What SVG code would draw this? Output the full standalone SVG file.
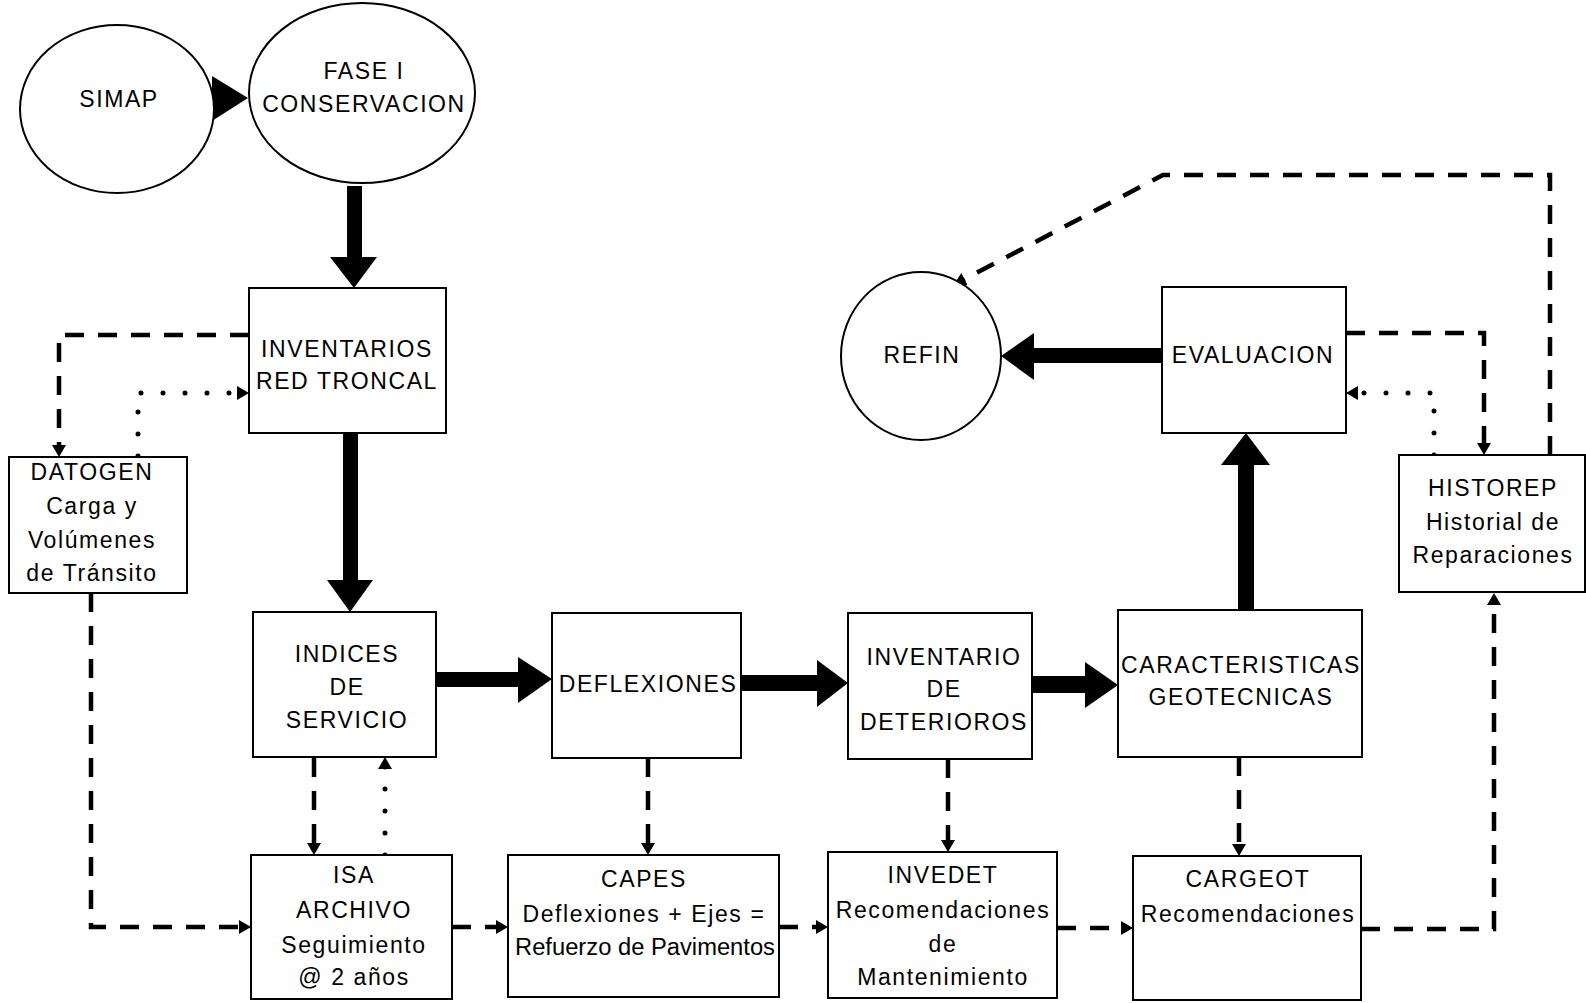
<svg xmlns="http://www.w3.org/2000/svg" width="1586" height="1003" viewBox="0 0 1586 1003">
  <style>
    .box { fill: #fff; stroke: #000; stroke-width: 2; }
    .ell { fill: #fff; stroke: #000; stroke-width: 2; }
    .lbl { font-family: "Liberation Sans", Arial, sans-serif; font-size: 23px; letter-spacing: 1.6px; text-anchor: middle; fill: #000; }
    .dash { fill: none; stroke: #000; stroke-width: 4.5; stroke-dasharray: 19 14; }
    .dot { fill: none; stroke: #000; stroke-width: 5; stroke-linecap: round; stroke-dasharray: 0 22; }
    .thick { fill: #000; stroke: none; }
  </style>
  <defs>
    <marker id="ah" viewBox="0 0 14 14" refX="4" refY="7" markerWidth="14" markerHeight="14" markerUnits="userSpaceOnUse" orient="auto">
      <path d="M0,0 L12,7 L0,14 z" fill="#000"/>
    </marker>
  </defs>
  <rect width="1586" height="1003" fill="#fff"/>

  <!-- connectors -->
  <g id="connectors">
    <!-- heavy flow arrows -->
    <polygon class="thick" points="212,76 248,98 212,121"/>
    <polygon class="thick" points="347,186 362,186 362,257 377,257 354,288 330,257 347,257"/>
    <polygon class="thick" points="343,433 358,433 358,580 373,580 350,612 327,580 343,580"/>
    <polygon class="thick" points="436,672 518,672 518,657 552,679 518,703 518,687 436,687"/>
    <polygon class="thick" points="741,675 817,675 817,660 848,683 817,707 817,691 741,691"/>
    <polygon class="thick" points="1032,676 1085,676 1085,662 1118,685 1085,708 1085,693 1032,693"/>
    <polygon class="thick" points="1238,610 1238,465 1221,465 1246,433 1270,465 1254,465 1254,610"/>
    <polygon class="thick" points="1162,348 1034,348 1034,333 1001,356 1034,380 1034,363 1162,363"/>

    <!-- dashed data links -->
    <path class="dash" d="M249,335 H59 V449" marker-end="url(#ah)"/>
    <path class="dot" d="M138,456 V393 H241" marker-end="url(#ah)"/>
    <path class="dash" d="M91,593 V927 H243" marker-end="url(#ah)"/>
    <path class="dash" d="M314,758 V847" marker-end="url(#ah)"/>
    <path class="dot" d="M385,855 V765" marker-end="url(#ah)"/>
    <path class="dash" d="M452,927 H500" marker-end="url(#ah)"/>
    <path class="dash" d="M648,758 V847" marker-end="url(#ah)"/>
    <path class="dash" d="M779,927 H820" marker-end="url(#ah)"/>
    <path class="dash" d="M948,759 V844" marker-end="url(#ah)"/>
    <path class="dash" d="M1057,928 H1125" marker-end="url(#ah)"/>
    <path class="dash" d="M1239,757 V848" marker-end="url(#ah)"/>
    <path class="dash" d="M1361,929 H1494 V601" marker-end="url(#ah)"/>
    <path class="dash" d="M1346,333 H1484 V447" marker-end="url(#ah)"/>
    <path class="dot" d="M1434,455 V393 H1354" marker-end="url(#ah)"/>
    <path class="dash" d="M1550,455 V175 H1163 L961,281" marker-end="url(#ah)"/>
  </g>

  <!-- nodes -->
  <g id="simap">
    <ellipse class="ell" cx="117" cy="109" rx="97" ry="84"/>
    <text class="lbl" x="119" y="107">SIMAP</text>
  </g>
  <g id="fase">
    <ellipse class="ell" cx="362" cy="93" rx="113" ry="90"/>
    <text class="lbl" x="364" y="79">FASE I</text>
    <text class="lbl" x="364" y="112">CONSERVACION</text>
  </g>
  <g id="inventarios">
    <rect class="box" x="249" y="288" width="197" height="145"/>
    <text class="lbl" x="347" y="357">INVENTARIOS</text>
    <text class="lbl" x="347" y="389">RED TRONCAL</text>
  </g>
  <g id="datogen">
    <rect class="box" x="9" y="457" width="178" height="136"/>
    <text class="lbl" x="92" y="480">DATOGEN</text>
    <text class="lbl" x="92" y="514">Carga y</text>
    <text class="lbl" x="92" y="548">Volúmenes</text>
    <text class="lbl" x="92" y="581">de Tránsito</text>
  </g>
  <g id="indices">
    <rect class="box" x="253" y="612" width="183" height="145"/>
    <text class="lbl" x="347" y="662">INDICES</text>
    <text class="lbl" x="347" y="695">DE</text>
    <text class="lbl" x="347" y="728">SERVICIO</text>
  </g>
  <g id="deflexiones">
    <rect class="box" x="552" y="613" width="189" height="145"/>
    <text class="lbl" x="648" y="692">DEFLEXIONES</text>
  </g>
  <g id="deterioros">
    <rect class="box" x="848" y="613" width="184" height="146"/>
    <text class="lbl" x="944" y="665">INVENTARIO</text>
    <text class="lbl" x="944" y="697">DE</text>
    <text class="lbl" x="944" y="730">DETERIOROS</text>
  </g>
  <g id="geotecnicas">
    <rect class="box" x="1118" y="610" width="244" height="147"/>
    <text class="lbl" x="1241" y="673">CARACTERISTICAS</text>
    <text class="lbl" x="1241" y="705">GEOTECNICAS</text>
  </g>
  <g id="evaluacion">
    <rect class="box" x="1162" y="287" width="184" height="146"/>
    <text class="lbl" x="1253" y="363">EVALUACION</text>
  </g>
  <g id="refin">
    <ellipse class="ell" cx="921" cy="356" rx="80" ry="84"/>
    <text class="lbl" x="922" y="363">REFIN</text>
  </g>
  <g id="historep">
    <rect class="box" x="1399" y="455" width="186" height="137"/>
    <text class="lbl" x="1493" y="496">HISTOREP</text>
    <text class="lbl" x="1493" y="530">Historial de</text>
    <text class="lbl" x="1493" y="563">Reparaciones</text>
  </g>
  <g id="isa">
    <rect class="box" x="251" y="855" width="201" height="144"/>
    <text class="lbl" x="354" y="883">ISA</text>
    <text class="lbl" x="354" y="918">ARCHIVO</text>
    <text class="lbl" x="354" y="953">Seguimiento</text>
    <text class="lbl" x="354" y="985">@ 2 años</text>
  </g>
  <g id="capes">
    <rect class="box" x="508" y="855" width="271" height="142"/>
    <text class="lbl" x="644" y="887">CAPES</text>
    <text class="lbl" x="644" y="922">Deflexiones + Ejes =</text>
    <text class="lbl" x="645" y="955" textLength="260" lengthAdjust="spacingAndGlyphs" style="letter-spacing:0">Refuerzo de Pavimentos</text>
  </g>
  <g id="invedet">
    <rect class="box" x="828" y="852" width="229" height="146"/>
    <text class="lbl" x="943" y="883">INVEDET</text>
    <text class="lbl" x="943" y="918">Recomendaciones</text>
    <text class="lbl" x="943" y="952">de</text>
    <text class="lbl" x="943" y="985">Mantenimiento</text>
  </g>
  <g id="cargeot">
    <rect class="box" x="1133" y="856" width="228" height="144"/>
    <text class="lbl" x="1248" y="887">CARGEOT</text>
    <text class="lbl" x="1248" y="922">Recomendaciones</text>
  </g>
</svg>
